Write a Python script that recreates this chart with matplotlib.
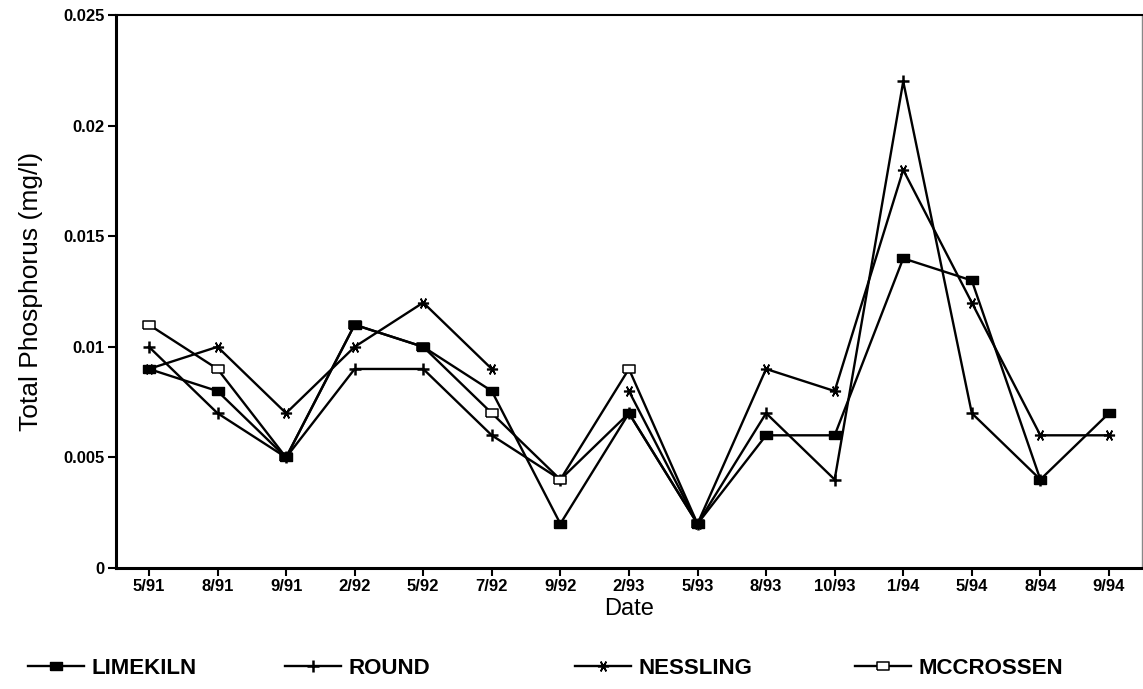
import numpy as np
import matplotlib
matplotlib.use("Agg")
import matplotlib.pyplot as plt
from matplotlib.ticker import FuncFormatter

#%%
# Sampling dates (category axis)
dates = ["5/91", "8/91", "9/91", "2/92", "5/92", "7/92", "9/92", "2/93",
         "5/93", "8/93", "10/93", "1/94", "5/94", "8/94", "9/94"]

nan = np.nan
# Total phosphorus (mg/l) per lake, nan = not sampled
limekiln = [0.009, 0.008, 0.005, 0.011, 0.010, 0.008, 0.002, 0.007,
            0.002, 0.006, 0.006, 0.014, 0.013, 0.004, 0.007]
round_lake = [0.010, 0.007, 0.005, 0.009, 0.009, 0.006, 0.004, 0.007,
              0.002, 0.007, 0.004, 0.022, 0.007, 0.004, nan]
nessling = [0.009, 0.010, 0.007, 0.010, 0.012, 0.009, nan, 0.008,
            0.002, 0.009, 0.008, 0.018, 0.012, 0.006, 0.006]
mccrossen = [0.011, 0.009, 0.005, 0.011, 0.010, 0.007, 0.004, 0.009,
             0.002, nan, nan, nan, nan, nan, nan]

#%%
plt.rcParams['font.family'] = ['Liberation Sans', 'DejaVu Sans']

fig = plt.figure(figsize=(11.43, 6.89), dpi=100)
ax = fig.add_axes([0.1015, 0.1756, 0.8975, 0.8025])

x = np.arange(len(dates))

# wide flat rectangle used for the square markers
rect = [(-1.6, -1), (1.6, -1), (1.6, 1), (-1.6, 1), (-1.6, -1)]

l1, = ax.plot(x, limekiln, color='black', lw=1.7, marker=rect, ms=8.5,
              mfc='black', mec='black', label='LIMEKILN', zorder=6)
l2, = ax.plot(x, round_lake, color='black', lw=1.7, marker='+', ms=9,
              mew=1.8, label='ROUND', zorder=4)
l3, = ax.plot(x, nessling, color='black', lw=1.7, marker=(6, 2, 90), ms=8,
              mew=1.2, label='NESSLING', zorder=3)
l4, = ax.plot(x, mccrossen, color='black', lw=1.7, marker=rect, ms=8.5,
              mfc='white', mec='black', mew=1.1, label='MCCROSSEN', zorder=5)

ax.set_xlim(-0.48, len(dates) - 1 + 0.48)
ax.set_ylim(0, 0.025)
ax.set_xticks(x)
ax.set_xticklabels(dates, fontsize=12, fontweight='bold')
ax.set_yticks([0, 0.005, 0.01, 0.015, 0.02, 0.025])
ax.yaxis.set_major_formatter(FuncFormatter(lambda v, p: '%g' % v))
for lab in ax.get_yticklabels():
    lab.set_fontweight('bold')
    lab.set_fontsize(12)
ax.tick_params(direction='out', length=6, width=1.5, pad=2)

ax.set_xlabel('Date', fontsize=17, labelpad=3)
ax.set_ylabel('Total Phosphorus (mg/l)', fontsize=19, labelpad=15)

ax.spines['left'].set_linewidth(2.2)
ax.spines['bottom'].set_linewidth(2.2)
ax.spines['top'].set_linewidth(1.5)
ax.spines['right'].set_linewidth(1.0)
ax.spines['right'].set_color('#888888')

#Legend along the bottom, one entry per slot
legend_x = [28, 285, 575, 855]
for h, lx in zip([l1, l2, l3, l4], legend_x):
    fig.legend(handles=[h], loc='center left',
               bbox_to_anchor=(lx / 1143, 1 - 668 / 689),
               frameon=False, handlelength=2.5, handletextpad=0.35,
               borderpad=0, borderaxespad=0,
               prop={'weight': 'bold', 'size': 16})

fig.savefig('out.png', dpi=100)
